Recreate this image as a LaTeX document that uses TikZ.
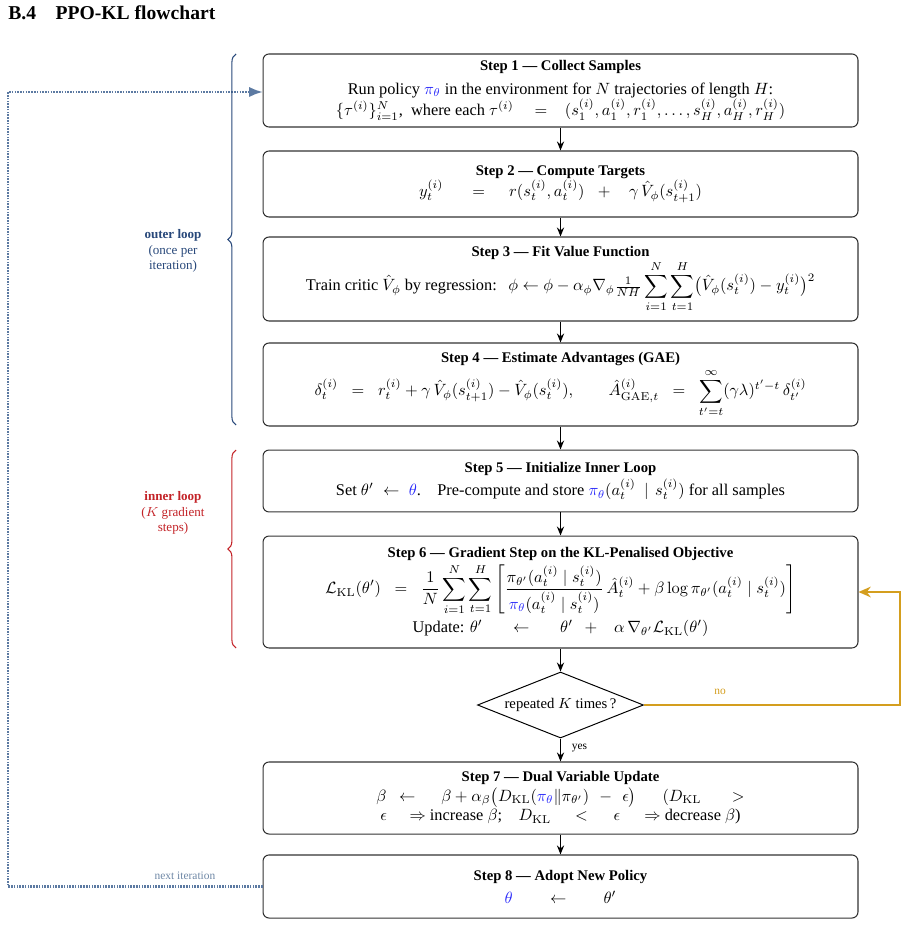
\documentclass[tikz,border=0pt]{standalone}
\usepackage{amsmath,amssymb}
\usepackage[no-math]{fontspec}
\setmainfont{Liberation Serif}
\usetikzlibrary{shapes.geometric,decorations.pathreplacing,arrows.meta}
\definecolor{piblue}{RGB}{40,40,250}
\definecolor{outerc}{RGB}{40,72,122}
\definecolor{innerc}{RGB}{195,35,40}
\definecolor{loopc}{RGB}{92,122,162}
\definecolor{nextc}{RGB}{110,135,165}
\definecolor{noc}{RGB}{212,158,30}
\newcommand{\hs}[1]{\hspace{#1pt}}
\newcommand{\hd}[1]{{\small\bfseries #1}}
\begin{document}
\begin{tikzpicture}[x=0.612pt,y=-0.612pt,
  stepbox/.style={draw=black!80, rounded corners=3.7pt, line width=0.65pt,
    minimum width=364.1pt, text width=362pt, align=flush center, inner sep=0pt},
  arr/.style={-{Stealth[length=5.5pt,width=4.4pt]}, line width=0.75pt},
  lbl/.style={font=\scriptsize},
  bracestyle/.style={line width=0.65pt, decorate, decoration={brace, amplitude=5pt}},
  looplbl/.style={align=center, font=\footnotesize}
]
\useasboundingbox (0,0) rectangle (907,925);

\node[anchor=base west, inner sep=0pt, font=\bfseries\large] (title) at (8,20) {B.4\quad PPO-KL flowchart};

\node[stepbox, minimum height=44.7pt] (s1) at (560.5,90.5) {%
\hd{Step 1 --- Collect Samples}\\[2.5pt]
Run policy \textcolor{piblue}{$\pi_\theta$} in the environment for $N$ trajectories of length $H$:\\[-0.5pt]
$\{\tau^{(i)}\}_{i=1}^{N}$,\hs{5}where each $\tau^{(i)}\hs{10}=\hs{8}(s_1^{(i)},a_1^{(i)},r_1^{(i)},\dots,s_H^{(i)},a_H^{(i)},r_H^{(i)})$};

\node[stepbox, minimum height=40.4pt] (s2) at (560.5,184) {%
\hd{Step 2 --- Compute Targets}\\
$y_t^{(i)}\hs{15}=\hs{12}r(s_t^{(i)},a_t^{(i)})\hs{6}+\hs{9}\gamma\,\hat V_\phi(s_{t+1}^{(i)})$};

\node[stepbox, minimum height=51.4pt] (s3) at (560.5,279) {%
\hd{Step 3 --- Fit Value Function}\\
Train critic $\hat V_\phi$ by regression:\hs{7}$\displaystyle\phi\leftarrow\phi-\alpha_\phi\nabla_\phi\tfrac{1}{NH}\sum_{i=1}^{N}\sum_{t=1}^{H}\bigl(\hat V_\phi(s_t^{(i)})-y_t^{(i)}\bigr)^2$};

\node[stepbox, minimum height=50.8pt] (s4) at (560.5,384.5) {%
\hd{Step 4 --- Estimate Advantages (GAE)}\\[1pt]
$\displaystyle\delta_t^{(i)}\;\;=\;\;r_t^{(i)}+\gamma\,\hat V_\phi(s_{t+1}^{(i)})-\hat V_\phi(s_t^{(i)}),\qquad\hat A^{(i)}_{\mathrm{GAE},t}\;\;=\;\;\sum_{t'=t}^{\infty}(\gamma\lambda)^{t'-t}\,\delta_{t'}^{(i)}$};

\node[stepbox, minimum height=37.9pt] (s5) at (560.5,481) {%
\hd{Step 5 --- Initialize Inner Loop}\\[1pt]
Set $\theta'\hs{3}\leftarrow\hs{3}\textcolor{piblue}{\theta}$.\hs{10}Pre-compute and store \textcolor{piblue}{$\pi_\theta$}$(a_t^{(i)}\hs{5}|\hs{4}s_t^{(i)})$ for all samples};

\node[stepbox, minimum height=68.5pt] (s6) at (560.5,592) {%
\hd{Step 6 --- Gradient Step on the KL-Penalised Objective}\\[1pt]
$\displaystyle\mathcal{L}_{\mathrm{KL}}(\theta')\;\;=\;\;\frac{1}{N}\sum_{i=1}^{N}\sum_{t=1}^{H}\left[\frac{\pi_{\theta'}(a_t^{(i)}\mid s_t^{(i)})}{\textcolor{piblue}{\pi_\theta}(a_t^{(i)}\mid s_t^{(i)})}\,\hat A_t^{(i)}+\beta\log\pi_{\theta'}(a_t^{(i)}\mid s_t^{(i)})\right]$\\[2.5pt]
Update: $\theta'\hs{16}\leftarrow\hs{16}\theta'\hs{5}+\hs{8}\alpha\,\nabla_{\theta'}\mathcal{L}_{\mathrm{KL}}(\theta')$};

\node[diamond, draw, line width=0.6pt, shape aspect=2.5, minimum width=101.6pt, minimum height=40.4pt, inner sep=0pt, font=\small] (dia) at (560.5,705) {repeated $K$ times\,?};

\node[stepbox, minimum height=44.1pt] (s7) at (560.5,798) {%
\hd{Step 7 --- Dual Variable Update}\\
$\beta\hs{5}\leftarrow\hs{13}\beta+\alpha_\beta\bigl(D_{\mathrm{KL}}(\textcolor{piblue}{\pi_\theta}\|\pi_{\theta'})\hs{4}-\hs{4}\epsilon\bigr)\hs{16}(D_{\mathrm{KL}}\hs{16}>$\\
$\epsilon\hs{11}\Rightarrow$ increase $\beta$;\hs{10}$D_{\mathrm{KL}}\hs{12}<\hs{13}\epsilon\hs{12}\Rightarrow$ decrease $\beta$)};

\node[stepbox, minimum height=38.6pt] (s8) at (560.5,886.5) {%
\hd{Step 8 --- Adopt New Policy}\\[2pt]
$\textcolor{piblue}{\theta}\hs{20}\leftarrow\hs{20}\theta'$};

% main arrows
\draw[arr] (s1) -- (s2);
\draw[arr] (s2) -- (s3);
\draw[arr] (s3) -- (s4);
\draw[arr] (s4) -- (s5);
\draw[arr] (s5) -- (s6);
\draw[arr] (s6) -- (dia);
\draw[arr] (dia) -- (s7);
\node[lbl, anchor=west] (yes) at (566,748) {yes};
\draw[arr] (s7) -- (s8);

% no loop
\coordinate (ox) at (900,0);
\draw[noc, line width=1.5pt, -{Stealth[length=7.5pt,width=6.5pt]}] (dia.east) -- (dia.east -| ox) -- (s6.east -| ox) -- (s6.east);
\node[lbl, text=noc] (no) at (720,692) {no};

% next iteration loop
\coordinate (lx) at (8,0);
\coordinate (s1in) at (263,92);
\draw[loopc, line width=1.5pt, dash pattern=on 0.95pt off 0.75pt, -{Latex[length=8.5pt,width=6.3pt]}] (s8.west) -- (s8.west -| lx) -- (s1in -| lx) -- (s1in);
\node[lbl, text=nextc] (next) at (185,876) {next iteration};

% braces
\coordinate (ob1) at (236,425);
\coordinate (ob2) at (236,54);
\draw[outerc, bracestyle] (ob1) -- (ob2);
\node[looplbl, text=outerc] (outer) at (173,251) {\textbf{outer loop}\\(once per\\iteration)};

\coordinate (ib1) at (236,648);
\coordinate (ib2) at (236,450);
\draw[innerc, bracestyle] (ib1) -- (ib2);
\node[looplbl, text=innerc] (inner) at (173,513) {\textbf{inner loop}\\($K$ gradient\\steps)};
\end{tikzpicture}
\end{document}
